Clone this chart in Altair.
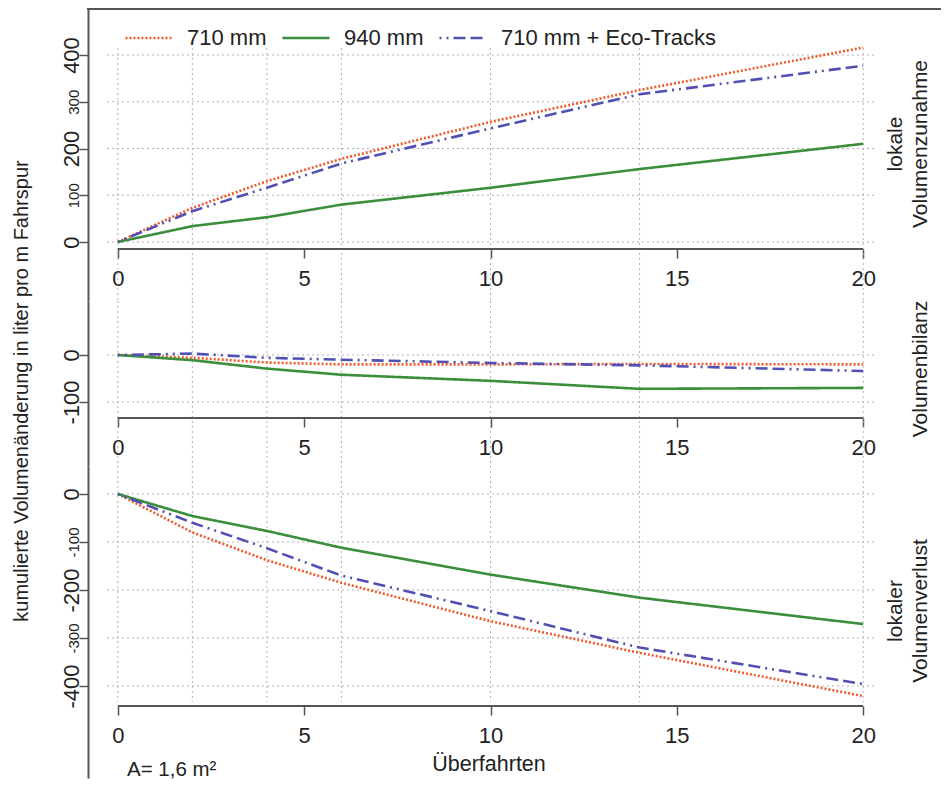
import altair as alt
import pandas as pd

# ---------------- data ----------------
passes = [0, 2, 4, 6, 10, 14, 20]
series_names = ["710 mm", "940 mm", "710 mm + Eco-Tracks"]

gain_710 = [0, 73, 130, 178, 257, 325, 416]
gain_940 = [0, 34, 53, 80, 116, 156, 210]
gain_eco = [0, 66, 116, 168, 243, 316, 377]

bal_710 = [0, -6, -16, -20, -20, -19, -20]
bal_940 = [0, -11, -29, -42, -55, -72, -70]
bal_eco = [0, 3, -6, -10, -17, -22, -34]

loss_710 = [0, -80, -138, -185, -265, -331, -421]
loss_940 = [0, -46, -77, -112, -168, -216, -271]
loss_eco = [0, -60, -113, -170, -244, -320, -396]

x_ticks = [0, 5, 10, 15, 20]
gain_ticks = [0, 100, 200, 300, 400]
bal_ticks = [0, -100]
loss_ticks = [0, -100, -200, -300, -400]

colors = ["#EE5A2C", "#3B8E3B", "#5050B4"]
dashes = [[2, 2], [1, 0], [2, 5, 2, 5, 12, 5, 12, 5]]

FONT = "Liberation Sans"
TXT = "#222222"
AX = "#555555"
GRID = "#b3b3b3"
W = 805


def long_df(a, b, c):
    rows = []
    for name, vals in zip(series_names, (a, b, c)):
        for x, v in zip(passes, vals):
            rows.append({"x": x, "v": v, "series": name})
    return pd.DataFrame(rows)


def one_row():
    return pd.DataFrame({"k": [0]})


def panel(df, ticks, height, ydom, axis_y, vgrid_top, vgrid_bottom, small_test, legend, texts,
          top_frame=False):
    xscale = alt.Scale(domain=[-0.8, 20.8], nice=False, zero=False)
    yscale = alt.Scale(domain=ydom, nice=False, zero=False)
    x_axis = alt.Axis(values=x_ticks, domain=False, grid=False, ticks=True, tickSize=9,
                      tickWidth=1.5, tickColor=AX, labelFontSize=22, labelColor=TXT,
                      labelFont=FONT, labelPadding=10, labelFlush=False, labelOverlap=False,
                      offset=axis_y - height, title=None)
    if small_test:
        lfs = {"condition": {"test": small_test, "value": 15}, "value": 22}
    else:
        lfs = 22
    y_axis = alt.Axis(values=ticks, domain=True, domainColor=AX, domainWidth=2, grid=False,
                      tickSize=9, tickWidth=1.5, tickColor=AX, labelAngle=270,
                      labelAlign="center", labelBaseline="alphabetic", labelPadding=1,
                      labelFontSize=lfs, labelColor=TXT, labelFont=FONT,
                      labelExpr="toString(datum.value)",
                      labelOverlap=False, title=None)

    vgrid = alt.Chart(pd.DataFrame({"x": passes})).mark_rule(
        color=GRID, strokeDash=[2, 3], strokeWidth=1
    ).encode(
        x=alt.X("x:Q", scale=xscale, axis=x_axis, title=None),
        y=alt.value(vgrid_top), y2=alt.value(vgrid_bottom),
    )
    hgrid = alt.Chart(pd.DataFrame({"v": ticks})).mark_rule(
        color=GRID, strokeDash=[2, 3], strokeWidth=1
    ).encode(
        y=alt.Y("v:Q", scale=yscale, axis=y_axis, title=None),
        x=alt.value(19), x2=alt.value(789),
    )
    xline = alt.Chart(pd.DataFrame({"x0": [x_ticks[0]], "x1": [x_ticks[-1]]})).mark_rule(
        color=AX, strokeWidth=2
    ).encode(
        x=alt.X("x0:Q", scale=xscale, axis=x_axis, title=None),
        x2="x1:Q",
        y=alt.value(axis_y),
    )
    lines = alt.Chart(df).mark_line(strokeWidth=2.6, strokeCap="butt").encode(
        x=alt.X("x:Q", scale=xscale, axis=x_axis, title=None),
        y=alt.Y("v:Q", scale=yscale, axis=y_axis, title=None),
        color=alt.Color("series:N", scale=alt.Scale(domain=series_names, range=colors),
                        legend=legend, sort=series_names),
        strokeDash=alt.StrokeDash("series:N", scale=alt.Scale(domain=series_names, range=dashes),
                                  legend=legend, sort=series_names),
    )
    layers = [vgrid, hgrid, xline, lines]
    if top_frame:
        layers.append(
            alt.Chart(one_row()).mark_rule(color=AX, strokeWidth=2).encode(
                y=alt.value(0), x=alt.value(-1), x2=alt.value(853)
            )
        )
    for t in texts:
        txt, px, py, size, angle, align, base = t
        props = dict(text=txt, font=FONT, fontSize=size, color=TXT, align=align, baseline=base)
        if angle:
            props["angle"] = angle
        layers.append(
            alt.Chart(one_row()).mark_text(**props).encode(x=alt.value(px), y=alt.value(py))
        )
    return alt.layer(*layers).properties(width=W, height=height)


legend_top = alt.Legend(orient="none", legendX=36, legendY=4, direction="horizontal",
                        columns=3, title=None, symbolType="stroke", symbolSize=2209,
                        symbolStrokeWidth=2.6, labelFontSize=22, labelFont=FONT,
                        labelColor=TXT, labelOffset=13, columnPadding=10, padding=0,
                        labelLimit=500)

# panel 1: lokale Volumenzunahme
h1 = 292
p1 = panel(long_df(gain_710, gain_940, gain_eco), gain_ticks, h1,
           [-126.2, 498.4], 240, 39, h1, "datum.value % 200 != 0", legend_top,
           [("lokale", 808, 135, 21, 270, "center", "middle"),
            ("Volumenzunahme", 833, 135, 21, 270, "center", "middle")],
           top_frame=True)

# panel 2: Volumenbilanz
h2 = 165
p2 = panel(long_df(bal_710, bal_940, bal_eco), bal_ticks, h2,
           [-236.2, 114.9], 117, 0, h2, None, None,
           [("Volumenbilanz", 833, 68, 21, 270, "center", "middle"),
            ("kumulierte Volumenänderung in liter pro m Fahrspur", -66, 90, 20, 270,
             "center", "middle")])

# panel 3: lokaler Volumenverlust
h3 = 312
p3 = panel(long_df(loss_710, loss_940, loss_eco), loss_ticks, h3,
           [-591.7, 58.3], 240, 0, 236, "datum.value % 200 != 0", None,
           [("lokaler", 808, 145, 21, 270, "center", "middle"),
            ("Volumenverlust", 833, 145, 21, 270, "center", "middle"),
            ("Überfahrten", 401, 305, 21.5, 0, "center", "alphabetic"),
            ("A= 1,6 m²", 39, 310, 20.5, 0, "left", "alphabetic")])

chart = alt.vconcat(p1, p2, p3, spacing=0, bounds="flush").resolve_legend(
    color="independent", strokeDash="independent"
).properties(
    padding={"left": 3, "top": 0, "right": 0, "bottom": 0}
).configure(font=FONT).configure_view(stroke=None, fill=None)

chart.save("out.html", embed_options={"renderer": "svg", "actions": False})
